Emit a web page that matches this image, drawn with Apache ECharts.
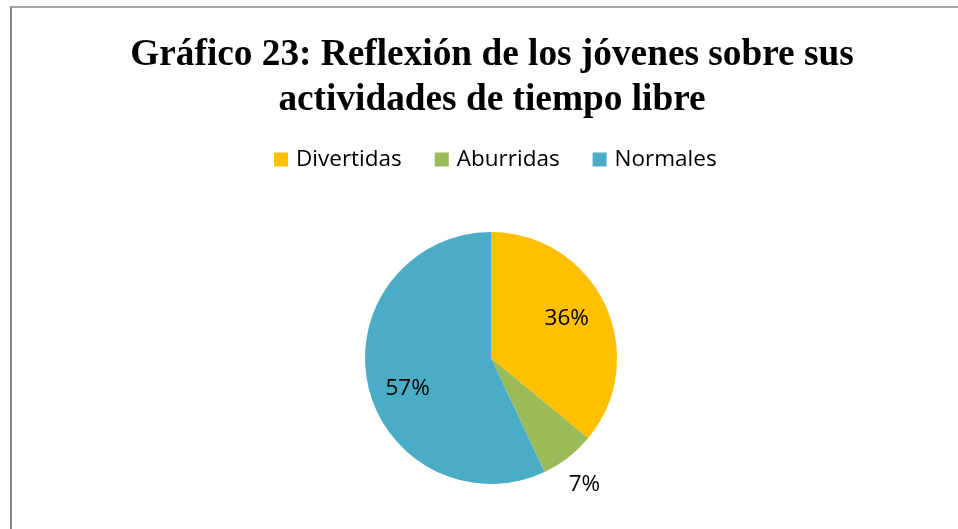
<!DOCTYPE html>
<html>
<head>
<meta charset="utf-8">
<script src="https://cdn.jsdelivr.net/npm/echarts@6/dist/echarts.min.js"></script>
<style>html,body{margin:0;padding:0;background:#fff}#c{width:958px;height:529px}</style>
</head>
<body>
<div id="c"></div>
<script>
const titleText = 'Gráfico 23: Reflexión de los jóvenes sobre sus\nactividades de tiempo libre';
const categories = ['Divertidas', 'Aburridas', 'Normales'];
const values = [36, 7, 57];
const colors = ['#FFC000', '#9BBB59', '#4BACC6'];
const labelOffsets = [[16, -11], [53, 74], [-19, 16]];

const chart = echarts.init(document.getElementById('c'));
chart.setOption({
  backgroundColor: '#ffffff',
  animation: false,
  title: {
    text: titleText,
    left: 487,
    textAlign: 'center',
    top: 28,
    textStyle: {
      fontFamily: 'Liberation Serif',
      fontWeight: 'bold',
      fontSize: 37.3,
      lineHeight: 45,
      color: '#000'
    }
  },
  legend: {
    data: categories,
    top: 143,
    left: 269,
    icon: 'rect',
    itemWidth: 14,
    itemHeight: 14,
    itemGap: 33,
    textStyle: { fontFamily: 'Open Sans', fontSize: 22.5, color: '#000', padding: [0, 0, 0, 3] }
  },
  graphic: [
    { type: 'line', shape: { x1: 10, y1: 7, x2: 958, y2: 7 }, style: { stroke: '#898989', lineWidth: 1.5 } },
    { type: 'line', shape: { x1: 11, y1: 7, x2: 11, y2: 529 }, style: { stroke: '#898989', lineWidth: 2 } }
  ],
  series: [{
    type: 'pie',
    center: [491, 358],
    radius: [0, 126],
    startAngle: 90,
    clockwise: true,
    label: {
      position: 'inside',
      fontFamily: 'Open Sans',
      fontSize: 22.5,
      color: '#000'
    },
    labelLine: { show: false },
    emphasis: { disabled: true },
    itemStyle: { borderWidth: 0 },
    data: categories.map((n, i) => ({
      name: n,
      value: values[i],
      itemStyle: { color: colors[i] },
      label: { offset: labelOffsets[i], formatter: values[i] + '%' }
    }))
  }]
});
</script>
</body>
</html>
